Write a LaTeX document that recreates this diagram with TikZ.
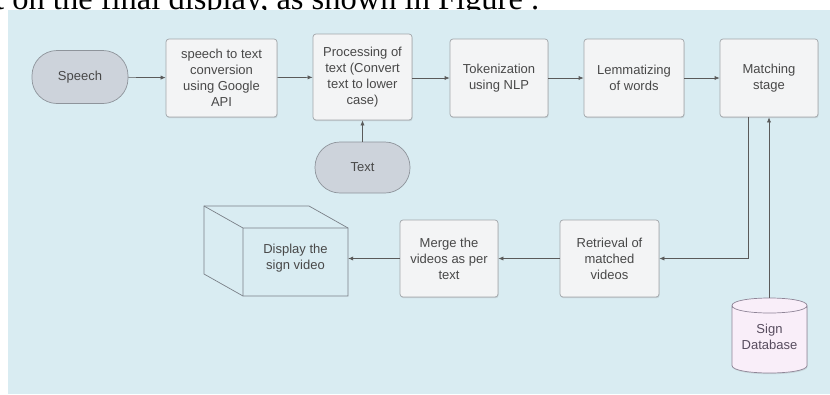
\documentclass[tikz,border=0pt]{standalone}
\usepackage{fontspec}
\setmainfont{Liberation Sans}
\newfontfamily\captfont{Liberation Serif}
\usetikzlibrary{arrows.meta,shadows}
\definecolor{panel}{HTML}{D9ECF2}
\definecolor{boxfill}{HTML}{F3F4F5}
\definecolor{boxline}{HTML}{A2A6AA}
\definecolor{pillfill}{HTML}{CDD3DB}
\definecolor{pillline}{HTML}{8E949B}
\definecolor{dbfill}{HTML}{F9EEF9}
\definecolor{dbline}{HTML}{8F8597}
\definecolor{dbtext}{HTML}{574C5E}
\definecolor{txt}{HTML}{484848}
\definecolor{conn}{HTML}{5A5A5A}
\definecolor{cubeline}{HTML}{7A8088}
\tikzset{
  x=1pt,y=-1pt,
  lbl/.style={font=\fontsize{13}{16}\selectfont, text=txt, align=center, inner sep=0pt},
  stepbox/.style={lbl, draw=boxline, fill=boxfill, rounded corners=3pt, line width=0.7pt,
    drop shadow={shadow xshift=0.6pt, shadow yshift=-1.2pt, opacity=0.25}},
  pill/.style={lbl, draw=pillline, fill=pillfill, rounded corners=25pt, line width=0.7pt},
  conn/.style={draw=conn, line width=0.7pt, -{Latex[length=5pt,width=4.2pt]}},
}
\begin{document}
\begin{tikzpicture}
\useasboundingbox (0,0) rectangle (830,394);
\clip (0,0) rectangle (830,394);
\node[anchor=base west, inner sep=0pt, font=\captfont\fontsize{32.5}{34}\selectfont] (cap) at (-5,9.5) {t on the final display, as shown in Figure .};
\fill[panel] (8,10) rectangle (830,394);

\node[pill, minimum width=96pt, minimum height=53pt] (speech) at (80,77) {Speech};
\node[stepbox, minimum width=111pt, minimum height=78pt] (stt) at (221.5,78) {speech to text\\conversion\\using Google\\API};
\node[stepbox, minimum width=99pt, minimum height=86pt] (proc) at (362.5,77) {Processing of\\text (Convert\\text to lower\\case)};
\node[pill, minimum width=95pt, minimum height=51pt] (text) at (362.5,167.5) {Text};
\node[stepbox, minimum width=98pt, minimum height=78pt] (tok) at (499,78) {Tokenization\\using NLP};
\node[stepbox, minimum width=100pt, minimum height=78pt] (lem) at (634,78) {Lemmatizing\\of words};
\node[stepbox, minimum width=98pt, minimum height=78pt] (match) at (769,78) {Matching\\stage};
\node[stepbox, minimum width=99pt, minimum height=77pt] (retr) at (609.5,258.5) {Retrieval of\\matched\\videos};
\node[stepbox, minimum width=98pt, minimum height=77pt] (merge) at (449,258.5) {Merge the\\videos as per\\text};

% cube
\draw[cubeline, line width=0.7pt, fill=panel] (204,206) -- (309,206) -- (348,228) -- (348,296) -- (243,296) -- (204,274) -- cycle;
\draw[cubeline, line width=0.7pt] (204,206) -- (243,228) -- (348,228) (243,228) -- (243,296);
\node[lbl, minimum width=105pt, minimum height=68pt] (disp) at (295.5,258.5) {Display the\\sign video};

% database cylinder
\fill[dbfill, drop shadow={shadow xshift=0.6pt, shadow yshift=-1.2pt, opacity=0.2}] (732,305.5) -- (732,365.5) .. controls (732,375.5) and (807,375.5) .. (807,365.5) -- (807,305.5) .. controls (807,295.5) and (732,295.5) .. (732,305.5) -- cycle;
\draw[dbline, line width=0.7pt] (732,305.5) -- (732,365.5) .. controls (732,375.5) and (807,375.5) .. (807,365.5) -- (807,305.5) .. controls (807,295.5) and (732,295.5) .. (732,305.5) .. controls (732,315.5) and (807,315.5) .. (807,305.5);
\node[lbl, text=dbtext, minimum width=75pt, minimum height=60pt] (db) at (769.5,337) {Sign\\Database};
\coordinate (dbtop) at (769,298);

% connectors
\draw[conn] (speech) -- (stt);
\draw[conn] (stt) -- (proc);
\draw[conn] (proc.east |- tok) -- (tok);
\draw[conn] (tok) -- (lem);
\draw[conn] (lem) -- (match);
\draw[conn] (text) -- (proc);
\draw[conn] ([xshift=-21pt]match.south) |- (retr.east);
\draw[conn] (dbtop) -- (match.south);
\draw[conn] (retr) -- (merge);
\draw[conn] (merge.west) -- (disp.east);
\end{tikzpicture}
\end{document}
